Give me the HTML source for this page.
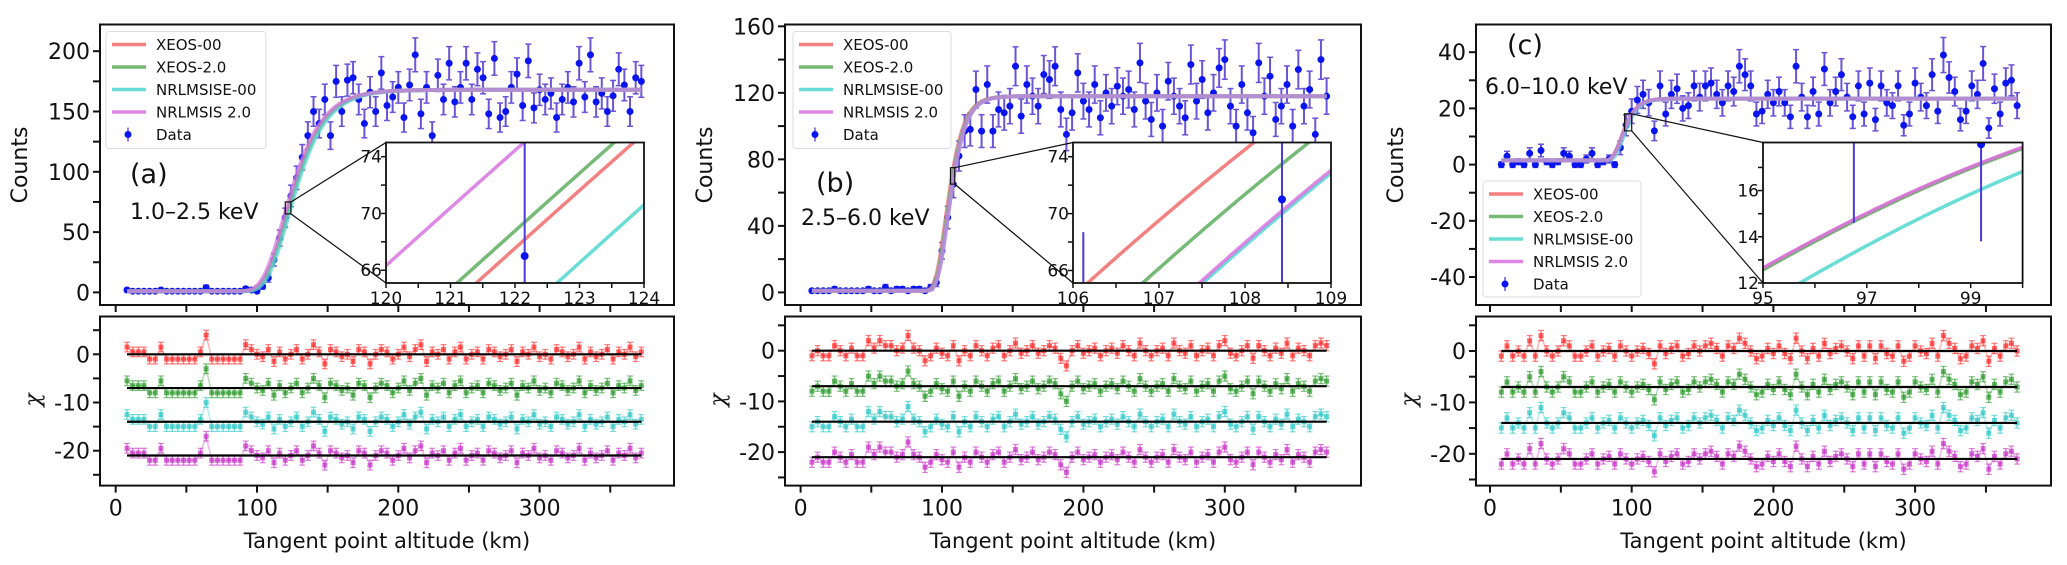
<!DOCTYPE html>
<html><head><meta charset="utf-8">
<style>
html,body{margin:0;padding:0;background:#fff;}
svg{display:block;font-family:"DejaVu Sans","Liberation Sans",sans-serif;}
</style></head>
<body>
<svg id="fig" width="2067" height="565" viewBox="0 0 2067 565" xmlns="http://www.w3.org/2000/svg"></svg>
<script>
// ---------- DATA (altitude = 8 + 4*i km) ----------
const countsA = [2,1,1,1,1,1,2,1,1,1, 1,1,1,1,4,1,1,1,1,1, 1,3,2,1,5,12,27,45,62,80,
  95,112,130,150,140,160,130,175,150,176, 178,160,140,166,150,182,155,162,170,145,
  172,197,148,170,130,180,160,190,158,170, 190,160,185,178,148,194,145,150,170,181,
  155,192,153,168,160,165,145,160,170,158, 190,162,197,158,165,150,163,185,172,150, 178,175];
const countsB = [1,1,1,1,2,1,1,1,1,1, 2,1,1,3,1,2,2,1,2,2, 1,3,6,25,45,65,82,97,98,122,
  97,125,97,110,108,112,136,106,125,118, 112,131,128,136,110,95,108,132,115,110,
  125,105,120,112,124,118,122,110,138,115, 104,120,100,127,118,112,105,137,115,128,
  108,120,135,140,112,100,125,108,96,138, 118,130,104,112,125,100,134,112,122,95, 140,118];
const countsC = [0,3,0,1,0,4,0,5,1,0, 1,4,3,0,0,2,4,0,1,2, 0,6,14,19,23,25,22,12,28,18,
  25,27,20,21,28,24,28,29,25,22, 28,26,35,32,28,18,19,25,22,26,
  22,17,35,24,17,26,18,34,22,26, 32,24,17,28,18,29,16,28,22,21,
  28,14,18,29,24,21,32,19,39,31, 26,16,19,28,25,36,13,27,18,29, 30,21];
const residA = [1.5,0.5,0.5,0.5,-1,-1,1.5,-1,-1,-1, -1,-1,-1,0.5,4,-1,-1,-1,-1,-1,
  -1,2,1,0,-0.5,1,-1.5,0.5,-1,0, 1,-1,0,2,0.5,-2,1,0.5,-0.5,0, -1.5,1,0.5,-2,0,1,0.5,-1,0,1.5,
  -0.5,1,2,-1.5,0.5,0,1,-1,0.5,1.5, -1,0,0.5,-1,1,0.5,-0.5,0,1,-1.5, 0.5,0,1.5,-0.5,0,-1,1,0.5,-0.5,0,
  1.5,-1,0.5,-0.5,0,1,-1,0.5,0,1.5, -0.5,0.5];
const residB = [-1,0,-1,-1,1,0,-1,0.5,-1,-1, 2,0.5,2,1,1,0,0.5,3,0.5,0, -2,-1,0.5,-0.5,-1,1,-2,0,-1,1,
  0,-1,0.5,1,-1,0,1.5,-0.5,0,1, -0.5,0,1,0.5,-1.5,-3,0,1,-0.5,0, 0.5,-1,0,0.5,-0.5,1,0,-1,1.5,0,
  -1,0,0.5,-1,1.5,0,-0.5,1,-1,0, 0.5,-1,1,2,-0.5,-1,0,1,-1.5,1, 0,-1,0.5,-0.5,1.5,-1,0.5,0,-1,1, 1.5,1];
const residC = [-1,1,-1,0,-1,2,-1,3,0,-1, 0,2,1,-1,-1,0,1,-1,0,0.5, -1,1,0,-1,0,0.5,-0.5,-2.5,1,-0.5,
  0.5,1,-1,-0.5,1,0,1,1.5,0.5,-1, 1,0.5,2.5,1.5,0,-1.5,-1,0.5,-0.5,1, -0.5,-1.5,2.5,0,-1.5,0.5,-1,1.5,-0.5,0.5,
  1,0,-1.5,1,-1,1,-1.5,1,-0.5,-1, 1,-2,-1,1,0,-0.5,1.5,-1,3,1.5, 0.5,-1.5,-1,1,0.5,2,-2,0.5,-1,1, 1.5,0];
const modelNames = ["XEOS-00","XEOS-2.0","NRLMSISE-00","NRLMSIS 2.0"];
const hcA = [120.75,120.45,122.0,119.05]; const HA = 15;  const ampA = 167; const baseA = 1;
const hcB = [102.56,103.2,103.9,103.86];  const HB = 7.1; const ampB = 117; const baseB = 1;
const hcC = [92.7,92.75,93.9,92.68];      const HC = 6;   const ampC = 22;  const baseC = 1.5;
const residOffsets = [0,-7,-14,-21];
const insetPtsA = [[122.15,67,14]];
const insetPtsB = [[106.12,56,12.7],[108.43,71,12]];
const insetPtsC = [[96.75,18.7,4.1],[99.2,18,4.2]];

// ---------- LAYOUT ----------
const lineCols = ["#f26b6b","#5fae5f","#4fd8d0","#d874e0"];
const resCols = ["#ff2a2a","#2a9a2a","#2cc8c8","#c830c8"];
const panels = [
 {id:"a", counts:countsA, resid:residA, hc:hcA, H:HA, amp:ampA, base:baseA, ins:insetPtsA,
  bx0:100,bx1:674, x0:115.7, kx:1.413, ty0:292.4, ky:1.206, yt:[0,200,25,50],
  ry0:354.3, rky:4.82,
  inset:{x:386,y:142.5,w:258,h:140.5,xmin:120,xmax:124,ymin:65.1,ymax:75.0,xt:[120,124,0.5,1],yt:[66,74,2,4]},
  legend:{x:106,y:31.5,w:160,h:117}, tag:"(a)", tagX:130,tagY:183, band:"1.0–2.5 keV", bandX:130, bandY:219},
 {id:"b", counts:countsB, resid:residB, hc:hcB, H:HB, amp:ampB, base:baseB, ins:insetPtsB,
  bx0:785,bx1:1361, x0:800.6, kx:1.414, ty0:292.4, ky:1.663, yt:[0,160,20,40],
  ry0:350.7, rky:5.07,
  inset:{x:1073,y:142.5,w:258,h:140.5,xmin:106,xmax:109,ymin:65.12,ymax:75.0,xt:[106,109,0.5,1],yt:[66,74,2,4]},
  legend:{x:793,y:31.5,w:158,h:117}, tag:"(b)", tagX:816,tagY:192, band:"2.5–6.0 keV", bandX:801, bandY:225},
 {id:"c", counts:countsC, resid:residC, hc:hcC, H:HC, amp:ampC, base:baseC, ins:insetPtsC,
  bx0:1476,bx1:2051, x0:1490, kx:1.417, ty0:164.6, ky:2.81, yt:[-40,40,10,20],
  ry0:351, rky:5.14,
  inset:{x:1763,y:142.5,w:259.6,h:140.5,xmin:95,xmax:100,ymin:12,ymax:18.08,xt:[95,100,1,2],yt:[12,17,1,2]},
  legend:{x:1483,y:181,w:158,h:116}, tag:"(c)", tagX:1507,tagY:54, band:"6.0–10.0 keV", bandX:1485, bandY:94}
];
const TOP_Y0=24.5, TOP_Y1=305, BOT_Y0=316.5, BOT_Y1=485.6;
const NS="http://www.w3.org/2000/svg";
const fig=document.getElementById("fig");
function mk(tag,parent,attrs){const e=document.createElementNS(NS,tag);for(const k in attrs)e.setAttribute(k,attrs[k]);parent.appendChild(e);return e;}
function model(p,m,h){const z=(h-p.hc[m])/p.H;return p.base+p.amp*Math.exp(-Math.exp(-z));}

let defs=mk("defs",fig,{});
panels.forEach((p,pi)=>{
  const g=mk("g",fig,{});
  
  
  const X=h=>p.x0+h*p.kx, Y=c=>p.ty0-c*p.ky, RY=r=>p.ry0-r*p.rky;
  const cp=mk("clipPath",defs,{id:"clipTop"+p.id}); mk("rect",cp,{x:p.bx0,y:TOP_Y0,width:p.bx1-p.bx0,height:TOP_Y1-TOP_Y0});
  const top=mk("g",g,{});
  
  
  const plot=mk("g",top,{"clip-path":"url(#clipTop"+p.id+")"});
  const dg=mk("g",plot,{});
  
  
  p.counts.forEach((c,i)=>{const h=8+4*i, e=Math.sqrt(Math.max(c,1));
    mk("line",dg,{x1:X(h),x2:X(h),y1:Y(c-e),y2:Y(c+e),stroke:"#6a55d8","stroke-width":2});
    mk("line",dg,{x1:X(h)-3,x2:X(h)+3,y1:Y(c-e),y2:Y(c-e),stroke:"#6a55d8","stroke-width":1.5});
    mk("line",dg,{x1:X(h)-3,x2:X(h)+3,y1:Y(c+e),y2:Y(c+e),stroke:"#6a55d8","stroke-width":1.5});
    const d=mk("circle",dg,{cx:X(h),cy:Y(c),r:3.5,fill:"#0a14f0"});
    
    
  });
  for(let m=0;m<4;m++){let pts=[];for(let h=8;h<=372;h+=0.5)pts.push(X(h).toFixed(1)+","+Y(model(p,m,h)).toFixed(1));
    const l=mk("polyline",plot,{points:pts.join(" "),fill:"none",stroke:lineCols[m],"stroke-width":4,opacity:0.7});
    
    }
  mk("rect",top,{x:p.bx0,y:TOP_Y0,width:p.bx1-p.bx0,height:TOP_Y1-TOP_Y0,fill:"none",stroke:"#111","stroke-width":2});
  for(let v=p.yt[0];v<=p.yt[1]+1e-6;v+=p.yt[2]){const y=Y(v);if(y<TOP_Y0-1||y>TOP_Y1+1)continue;
    mk("line",top,{x1:p.bx0-7,x2:p.bx0,y1:y,y2:y,stroke:"#111","stroke-width":2});
    if(Math.abs(v/p.yt[3]-Math.round(v/p.yt[3]))<1e-6){const t=mk("text",top,{x:p.bx0-10,y:y+8,"font-size":22,"text-anchor":"end",fill:"#111"});t.textContent=String(v);
      }}
  for(let v=0;v<=350;v+=50)mk("line",top,{x1:X(v),x2:X(v),y1:TOP_Y1,y2:TOP_Y1+7,stroke:"#111","stroke-width":2});
  const yl=mk("text",top,{x:0,y:0,"font-size":22,"text-anchor":"middle",transform:"translate("+(p.bx0-73)+",165) rotate(-90)",fill:"#111"});
  yl.textContent="Counts";
  
  
  const tg=mk("text",top,{x:p.tagX,y:p.tagY,"font-size":27,fill:"#111"}); tg.textContent=p.tag;
  
  
  const bd=mk("text",top,{x:p.bandX,y:p.bandY,"font-size":22,fill:"#111"}); bd.textContent=p.band;
  
  
  const I=p.inset;
  const zx0=X(I.xmin), zx1=X(I.xmax), zy0=Y(I.ymax), zy1=Y(I.ymin);
  const zb=mk("rect",top,{x:zx0,y:zy0,width:zx1-zx0,height:zy1-zy0,fill:"none",stroke:"#111","stroke-width":1.2});
  
  
  mk("line",top,{x1:zx1,y1:zy0,x2:I.x,y2:I.y,stroke:"#111","stroke-width":1.2});
  mk("line",top,{x1:zx1,y1:zy1,x2:I.x,y2:I.y+I.h,stroke:"#111","stroke-width":1.2});
  const ig=mk("g",top,{});
  
  
  const IX=h=>I.x+(h-I.xmin)/(I.xmax-I.xmin)*I.w, IY=c=>I.y+I.h-(c-I.ymin)/(I.ymax-I.ymin)*I.h;
  mk("rect",ig,{x:I.x,y:I.y,width:I.w,height:I.h,fill:"#fff"});
  const icp=mk("clipPath",defs,{id:"clipIn"+p.id}); mk("rect",icp,{x:I.x,y:I.y,width:I.w,height:I.h});
  const ip=mk("g",ig,{"clip-path":"url(#clipIn"+p.id+")"});
  for(let m=0;m<4;m++){let pts=[];for(let h=I.xmin-0.2;h<=I.xmax+0.2;h+=0.02)pts.push(IX(h).toFixed(1)+","+IY(model(p,m,h)).toFixed(1));
    const l=mk("polyline",ip,{points:pts.join(" "),fill:"none",stroke:lineCols[m],"stroke-width":3.5,opacity:0.85});
    
    }
  p.ins.forEach(q=>{mk("line",ip,{x1:IX(q[0]),x2:IX(q[0]),y1:IY(q[1]-q[2]),y2:IY(q[1]+q[2]),stroke:"#4a3ad8","stroke-width":2});
    const d=mk("circle",ip,{cx:IX(q[0]),cy:IY(q[1]),r:4,fill:"#0a14f0"});
    
    });
  mk("rect",ig,{x:I.x,y:I.y,width:I.w,height:I.h,fill:"none",stroke:"#111","stroke-width":1.8});
  for(let v=I.xt[0];v<=I.xt[1]+1e-6;v+=I.xt[2]){const x=IX(v);mk("line",ig,{x1:x,x2:x,y1:I.y+I.h,y2:I.y+I.h+5,stroke:"#111","stroke-width":1.5});
    if(Math.abs((v-I.xt[0])/I.xt[3]-Math.round((v-I.xt[0])/I.xt[3]))<1e-6){const t=mk("text",ig,{x:x,y:I.y+I.h+21,"font-size":17,"text-anchor":"middle",fill:"#111"});t.textContent=String(v);
      }}
  for(let v=I.yt[0];v<=I.yt[1]+1e-6;v+=I.yt[2]){const y=IY(v);mk("line",ig,{x1:I.x-5,x2:I.x,y1:y,y2:y,stroke:"#111","stroke-width":1.5});
    if(Math.abs((v-I.yt[0])/I.yt[3]-Math.round((v-I.yt[0])/I.yt[3]))<1e-6){const t=mk("text",ig,{x:I.x-4,y:y+6,"font-size":17,"text-anchor":"end",fill:"#111"});t.textContent=String(v);
      }}
  const L=p.legend;
  const lg=mk("g",top,{});
  
  
  mk("rect",lg,{x:L.x,y:L.y,width:L.w,height:L.h,rx:3,fill:"#fff","fill-opacity":0.85,stroke:"#ddd","stroke-width":1});
  for(let m=0;m<5;m++){const ey=L.y+13+m*22.5;
    const eg=mk("g",lg,{});
    
    
    if(m<4){mk("line",eg,{x1:L.x+6,x2:L.x+40,y1:ey,y2:ey,stroke:lineCols[m],"stroke-width":3.5,opacity:0.85});}
    else{mk("line",eg,{x1:L.x+22,x2:L.x+22,y1:ey-7,y2:ey+7,stroke:"#6a55d8","stroke-width":1.5});mk("circle",eg,{cx:L.x+22,cy:ey,r:3.5,fill:"#0a14f0"});}
    const t=mk("text",eg,{x:L.x+50,y:ey+5.5,"font-size":15,fill:"#111"});t.textContent=m<4?modelNames[m]:"Data";}
  const bot=mk("g",g,{});
  
  
  for(let m=0;m<4;m++){
    const sg=mk("g",bot,{});
    
    
    const off=residOffsets[m];
    p.resid.forEach((r,i)=>{const h=8+4*i, x=X(h), y=RY(r+off);
      mk("line",sg,{x1:x,x2:x,y1:RY(r+off-1),y2:RY(r+off+1),stroke:resCols[m],"stroke-width":1.5,opacity:0.6});
      mk("line",sg,{x1:x-3,x2:x+3,y1:RY(r+off-1),y2:RY(r+off-1),stroke:resCols[m],"stroke-width":1.2,opacity:0.6});
      mk("line",sg,{x1:x-3,x2:x+3,y1:RY(r+off+1),y2:RY(r+off+1),stroke:resCols[m],"stroke-width":1.2,opacity:0.6});
      const s=mk("rect",sg,{x:x-2.5,y:y-2.5,width:5,height:5,fill:resCols[m],opacity:0.7});
      
      
      if(i>0){const pr=p.resid[i-1];mk("line",sg,{x1:X(h-4),x2:x,y1:RY(pr+off),y2:y,stroke:resCols[m],"stroke-width":1.5,opacity:0.35});}
    });
    const zl=mk("line",bot,{x1:X(8),x2:X(372),y1:RY(off),y2:RY(off),stroke:"#000","stroke-width":2.2});
    
    
  }
  mk("rect",bot,{x:p.bx0,y:BOT_Y0,width:p.bx1-p.bx0,height:BOT_Y1-BOT_Y0,fill:"none",stroke:"#111","stroke-width":2});
  for(let v=-25;v<=5;v+=5){const y=RY(v);if(y<BOT_Y0||y>BOT_Y1)continue;
    mk("line",bot,{x1:p.bx0-7,x2:p.bx0,y1:y,y2:y,stroke:"#111","stroke-width":2});
    if(v%10===0){const t=mk("text",bot,{x:p.bx0-10,y:y+8,"font-size":22,"text-anchor":"end",fill:"#111"});t.textContent=String(v);
      }}
  for(let v=0;v<=350;v+=50){mk("line",bot,{x1:X(v),x2:X(v),y1:BOT_Y1,y2:BOT_Y1+7,stroke:"#111","stroke-width":2});
    if(v%100===0){const t=mk("text",bot,{x:X(v),y:BOT_Y1+30,"font-size":22,"text-anchor":"middle",fill:"#111"});t.textContent=String(v);
      }}
  const chi=mk("text",bot,{x:0,y:0,"font-size":22,"font-style":"italic","font-family":"DejaVu Serif, serif","text-anchor":"middle",transform:"translate("+(p.bx0-60)+",400) rotate(-90)",fill:"#111"});
  chi.textContent="χ";
  
  
  const xl=mk("text",bot,{x:(p.bx0+p.bx1)/2,y:548,"font-size":21,"text-anchor":"middle",fill:"#111"});
  xl.textContent="Tangent point altitude (km)";
  
  
});
</script>
</body></html>
